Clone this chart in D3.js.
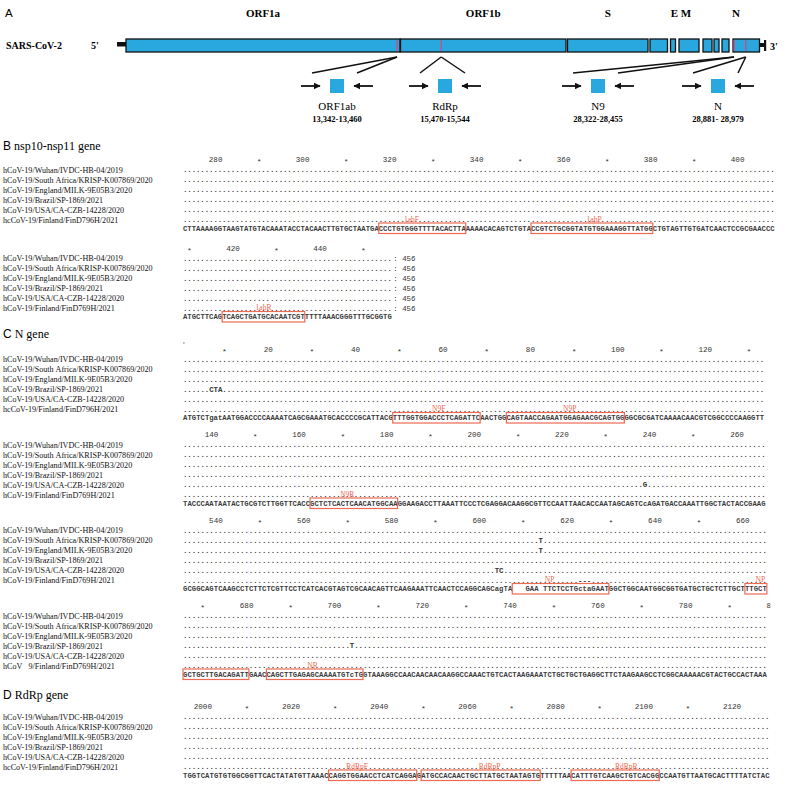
<!DOCTYPE html>
<html><head><meta charset="utf-8">
<script src="https://cdn.jsdelivr.net/npm/d3@7/dist/d3.min.js"></script>
<style>html,body{margin:0;padding:0;background:#fff;}</style>
</head><body>
<svg id="chart" width="800" height="786"></svg>
<script>
// ================= DATA =================
// Panel A: genome organisation (nt coordinates)
const genes = [
  {name:"ORF1a", start:266,   end:13483},
  {name:"ORF1b", start:13484, end:21555},
  {name:"S",     start:21563, end:25384},
  {name:"ORF3a", start:25393, end:26220},
  {name:"E",     start:26245, end:26472},
  {name:"M",     start:26523, end:27191},
  {name:"ORF6",  start:27202, end:27387},
  {name:"ORF7a", start:27394, end:27759},
  {name:"ORF8",  start:27894, end:28259},
  {name:"N",     start:28274, end:29533}
];
const geneLabels = [
  {text:"ORF1a", genes:["ORF1a"]},
  {text:"ORF1b", genes:["ORF1b"]},
  {text:"S",     genes:["S"]},
  {text:"E M",   genes:["E","M"]},
  {text:"N",     genes:["ORF8","N"]}
];
const primerSets   = ["ORF1ab","RdRp","N9","N"];
const primerStarts = [13342, 15470, 28322, 28881];
const primerEnds   = [13460, 15544, 28455, 28979];
const primerRanges = ["13,342-13,460","15,470-15,544","28,322-28,455","28,881- 28,979"];

// Panels B-D: alignments
const sampleNames = [
  "hCoV-19/Wuhan/IVDC-HB-04/2019",
  "hCoV-19/South Africa/KRISP-K007869/2020",
  "hCoV-19/England/MILK-9E05B3/2020",
  "hCoV-19/Brazil/SP-1869/2021",
  "hCoV-19/USA/CA-CZB-14228/2020"
];
const lastSampleNames = [
  "hcCoV-19/Finland/FinD796H/2021",
  "hCoV-19/Finland/FinD769H/2021",
  "hcCoV-19/Finland/FinD796H/2021",
  "hCoV-19/Finland/FinD769H/2021",
  "hCoV-19/Finland/FinD769H/2021",
  "hCoV   9/Finland/FinD769H/2021",
  "hcCoV-19/Finland/FinD796H/2021"
];
const sectionLetters = ["B","C","D"];
const sectionTitles  = ["nsp10-nsp11 gene","N gene","RdRp gene"];
const blockSection   = [0,0,1,1,1,1,2];
const blockStart     = [273, 409, 1, 134, 533, 666, 1996];
const blockSeqs = [
  "CTTAAAAGGTAAGTATGTACAAATACCTACAACTTGTGCTAATGA"+"CCCTGTGGGTTTTACACTTA"+"AAAACACAGTCTGTA"+"CCGTCTGCGGTATGTGGAAAGGTTATGG"+"CTGTAGTTGTGATCAACTCCGCGAACCC",
  "ATGCTTCAG"+"TCAGCTGATGCACAATCGT"+"TTTTAAACGGGTTTGCGGTG",
  "ATGTCTgatAATGGACCCCAAAATCAGCGAAATGCACCCCGCATTACG"+"TTTGGTGGACCCTCAGATTC"+"AACTGG"+"CAGTAACCAGAATGGAGAACGCAGTGG"+"GGCGCGATCAAAACAACGTCGGCCCCAAGGTT",
  "TACCCAATAATACTGCGTCTTGGTTCACC"+"GCTCTCACTCAACATGGCAA"+"GGAAGACCTTAAATTCCCTCGAGGACAAGGCGTTCCAATTAACACCAATAGCAGTCcAGATGACCAAATTGGCTACTACCGAAG",
  "GCGGCAGTCAAGCCTCTTCTCGTTCCTCATCACGTAGTCGCAACAGTTCAAGAAATTCAACTCCAGGCAGCagTA"+"   GAA TTCTCCTGctaGAAT"+"GGCTGGCAATGGCGGTGATGCTGCTCTTGCT"+"TTGCT",
  "GCTGCTTGACAGATT"+"GAAC"+"CAGCTTGAGAGCAAAATGTcTG"+"GTAAAGGCCAACAACAACAAGGCCAAACTGTCACTAAGAAATCTGCTGCTGAGGCTTCTAAGAAGCCTCGGCAAAAACGTACTGCCACTAAA",
  "TGGTCATGTGTGGCGGTTCACTATATGTTAAAC"+"CAGGTGGAACCTCATCAGGA"+"G"+"ATGCCACAACTGCTTATGCTAATAGTG"+"TTTTTAA"+"CATTTGTCAAGCTGTCACGG"+"CCAATGTTAATGCACTTTTATCTAC"
];
const blockTickFirst = [280, 410, 10, 140, 540, 670, 2000];
const blockTickLast  = [400, 450, 130, 260, 660, 800, 2120];
const blockTotals    = [null, "456", null, null, null, null, null];
// differences from consensus: block, sample row, first position, text
const variants = [
  {block:2, row:3, pos:7,   text:"CTA"},
  {block:3, row:4, pos:239, text:"G"},
  {block:4, row:1, pos:614, text:"T"},
  {block:4, row:2, pos:614, text:"T"},
  {block:4, row:4, pos:604, text:"TC"},
  {block:4, row:5, pos:623, text:"---"},
  {block:5, row:3, pos:704, text:"T"}
];
// primer / probe boxes on the consensus row
const primers = [
  {block:0, from:318,  to:337,  label:"1abF",  labelAt:325},
  {block:0, from:353,  to:380,  label:"1abP",  labelAt:367},
  {block:1, from:418,  to:436,  label:"1abR",  labelAt:427},
  {block:2, from:49,   to:68,   label:"N9F",   labelAt:59},
  {block:2, from:75,   to:101,  label:"N9P",   labelAt:89},
  {block:3, from:163,  to:182,  label:"N9R",   labelAt:171},
  {block:4, from:608,  to:629,  label:"NP",    labelAt:616},
  {block:4, from:661,  to:665,  label:"NP",    labelAt:664},
  {block:5, from:666,  to:680,  label:"",      labelAt:673},
  {block:5, from:685,  to:706,  label:"NR",    labelAt:695},
  {block:6, from:2029, to:2048, label:"RdRpF", labelAt:2035},
  {block:6, from:2050, to:2076, label:"RdRpP", labelAt:2065},
  {block:6, from:2084, to:2103, label:"RdRpR", labelAt:2096}
];

// ================= STYLE / LAYOUT =================
const SERIF = "'Liberation Serif','Times New Roman',serif";
const MONO  = "'Liberation Mono','Courier New',monospace";
const SANS  = "'Liberation Sans',Arial,sans-serif";
const BLUE = "#29a8df", RED = "#ec6a52", MARK = "#e0407a";

const svg = d3.select("#chart");
svg.append("rect").attr("width",800).attr("height",786).attr("fill","#fff");

// ---------- Panel A ----------
const gx = d3.scaleLinear()
  .domain(genes.flatMap(g => [g.start, g.end]))
  .range([126,400, 400.5,566, 567.5,648, 650,667.5, 670.5,675.5, 679,699, 703,712, 714,719, 722,729, 733,759.5]);
const barTop = 39, barH = 13;
const A = svg.append("g");
A.append("text").attr("x",5).attr("y",17).attr("font-family",SANS).attr("font-size",11.5).text("A");

A.selectAll("text.gl").data(geneLabels).join("text").attr("class","gl")
  .attr("x", d => d3.mean(d.genes, n => { const g = genes.find(e => e.name === n); return gx((g.start+g.end)/2); }))
  .attr("y", 17).attr("text-anchor","middle").attr("font-family",SERIF).attr("font-weight","bold")
  .attr("font-size",11).attr("xml:space","preserve").text(d => d.text);

A.append("text").attr("x",6).attr("y",49).attr("font-family",SERIF).attr("font-weight","bold").attr("font-size",10).text("SARS-CoV-2");
A.append("text").attr("x",91).attr("y",49).attr("font-family",SERIF).attr("font-weight","bold").attr("font-size",10).text("5'");
A.append("text").attr("x",770).attr("y",50).attr("font-family",SERIF).attr("font-weight","bold").attr("font-size",10).text("3'");
// stubs
A.append("rect").attr("x",117).attr("y",barTop+3).attr("width",gx.range()[0]-117).attr("height",4.5).attr("fill","#111");
A.append("rect").attr("x",gx.range()[gx.range().length-1]).attr("y",barTop+4).attr("width",6).attr("height",4).attr("fill","#111");
A.append("rect").attr("x",764).attr("y",barTop+1).attr("width",2.2).attr("height",barH-2).attr("fill","#111");
// gene boxes
A.selectAll("rect.gene").data(genes).join("rect").attr("class","gene")
  .attr("x", d => gx(d.start)).attr("y", barTop)
  .attr("width", d => gx(d.end) - gx(d.start)).attr("height", barH)
  .attr("fill", BLUE).attr("stroke","#111").attr("stroke-width",1.3);
// primer marks on genome
A.selectAll("line.mark").data(primerStarts).join("line").attr("class","mark")
  .attr("x1", d => gx(d)).attr("x2", d => gx(d)).attr("y1", barTop+1).attr("y2", barTop+barH-1)
  .attr("stroke", MARK).attr("stroke-width",1.2);

// primer schematics
const groupCenters = [337, 445, 598, 718];
const defs = svg.append("defs");
defs.append("marker").attr("id","ah").attr("viewBox","0 0 10 10").attr("refX",9).attr("refY",5)
  .attr("markerWidth",7).attr("markerHeight",7).attr("markerUnits","userSpaceOnUse").attr("orient","auto")
  .append("path").attr("d","M0,0 L10,5 L0,10 Z").attr("fill","#111");
primerSets.forEach((name, i) => {
  const c = groupCenters[i];
  const mx = gx(primerStarts[i]);
  const g = A.append("g");
  g.append("line").attr("x1",mx).attr("y1",57).attr("x2",c-25).attr("y2",73).attr("stroke","#111").attr("stroke-width",1.5);
  g.append("line").attr("x1",mx).attr("y1",57).attr("x2",c+20).attr("y2",73).attr("stroke","#111").attr("stroke-width",1.5);
  g.append("line").attr("x1",c-36).attr("y1",86).attr("x2",c-17).attr("y2",86).attr("stroke","#111").attr("stroke-width",1.8).attr("marker-end","url(#ah)");
  g.append("line").attr("x1",c+36).attr("y1",86).attr("x2",c+17).attr("y2",86).attr("stroke","#111").attr("stroke-width",1.8).attr("marker-end","url(#ah)");
  g.append("rect").attr("x",c-7).attr("y",79).attr("width",14).attr("height",14).attr("fill",BLUE);
  g.append("text").attr("x",c).attr("y",110).attr("text-anchor","middle").attr("font-family",SERIF).attr("font-size",11).text(name);
  g.append("text").attr("x",c).attr("y",122).attr("text-anchor","middle").attr("font-family",SERIF).attr("font-weight","bold").attr("font-size",8.5).attr("xml:space","preserve").text(primerRanges[i]);
});

// ---------- Panels B-D ----------
const seqX = 183, nameX = 3, rowGap = 10, tickToFirst = 10, lastToSeq = 8.5;
const pitch = [4.35, 4.35, 4.37, 4.38, 4.39, 4.39, 4.41];
const headerY = [146, 334, 695];
const blockTickY = [159.5, 248, 349, 434.5, 520, 605.5, 706.5];
const NB = "\u00A0";

defs.append("clipPath").attr("id","tickclip").append("rect").attr("x",0).attr("y",0).attr("width",770.5).attr("height",786);

sectionLetters.forEach((L, i) => {
  const t = svg.append("text").attr("x",3).attr("y",headerY[i]+4).attr("font-size",12);
  t.append("tspan").attr("font-family",SANS).text(L);
  t.append("tspan").attr("font-family",SERIF).attr("dx",3).text(sectionTitles[i]);
});

function charRow(g, x, start, str, y, opts) {
  const chars = Array.from(str).map(c => c === " " ? NB : c);
  g.append("text")
    .attr("x", chars.map((c, j) => x(start + j).toFixed(2)).join(" "))
    .attr("y", y).attr("text-anchor","middle")
    .attr("font-family", MONO).attr("font-size", opts.size)
    .attr("font-weight", opts.weight || "normal")
    .attr("fill", opts.fill)
    .text(chars.join(""));
}

blockSeqs.forEach((seq, b) => {
  const n = seq.length, s0 = blockStart[b];
  const x = d3.scaleLinear().domain([s0 - 0.5, s0 + n - 0.5]).range([seqX, seqX + n * pitch[b]]);
  const T = blockTickY[b];
  const g = svg.append("g");
  // tick row
  const ticks = d3.range(blockTickFirst[b], blockTickLast[b] + 1, 10);
  g.append("g").attr("clip-path","url(#tickclip)")
    .selectAll("text").data(ticks).join("text")
    .attr("x", d => x(d)).attr("y", d => d % 20 === 0 ? T + 2.5 : T + 4.5)
    .attr("text-anchor","middle").attr("font-family", MONO)
    .attr("font-size", d => d % 20 === 0 ? 7.6 : 8).attr("fill","#333")
    .text(d => d % 20 === 0 ? d : "*");
  if (b === 2) g.append("text").attr("x", x(0)+1).attr("y", T - 2).attr("font-family",MONO).attr("font-size",7).attr("fill","#555").text("'");
  // sample rows
  const names = sampleNames.concat([lastSampleNames[b]]);
  names.forEach((nm, r) => {
    const y = T + tickToFirst + r * rowGap;
    g.append("text").attr("x", nameX).attr("y", y + 3).attr("font-family", SERIF)
      .attr("font-size", 8.1).attr("fill","#111").text(nm.replace(/ /g, NB));
    const row = Array(n).fill(".");
    variants.filter(v => v.block === b && v.row === r).forEach(v => {
      Array.from(v.text).forEach((c, k) => { row[v.pos - s0 + k] = c; });
    });
    charRow(g, x, s0, row.join(""), y + 2.5, {size: 7.4, weight: "bold", fill: "#333"});
    if (blockTotals[b]) {
      g.append("text").attr("x", x.range()[1] + 1.5).attr("y", y + 2.5).attr("font-family", MONO)
        .attr("font-size", 7.4).attr("fill","#333").attr("xml:space","preserve").text(": " + blockTotals[b]);
    }
  });
  // consensus sequence
  const sy = T + tickToFirst + 5 * rowGap + lastToSeq;
  charRow(g, x, s0, seq, sy + 2.5, {size: 7.2, weight: "bold", fill: "#3a3a3a"});
  // primer boxes
  primers.filter(p => p.block === b).forEach(p => {
    g.append("rect").attr("x", x(p.from - 0.5)).attr("y", sy - 5)
      .attr("width", x(p.to + 0.5) - x(p.from - 0.5)).attr("height", 10.5)
      .attr("fill","none").attr("stroke", RED).attr("stroke-width", 1.2);
    if (p.label) g.append("text").attr("x", x(p.labelAt)).attr("y", sy - 6.5).attr("text-anchor","middle")
      .attr("font-family", SERIF).attr("font-size", 7.5).attr("fill", RED).text(p.label);
  });
});
</script>
</body></html>
